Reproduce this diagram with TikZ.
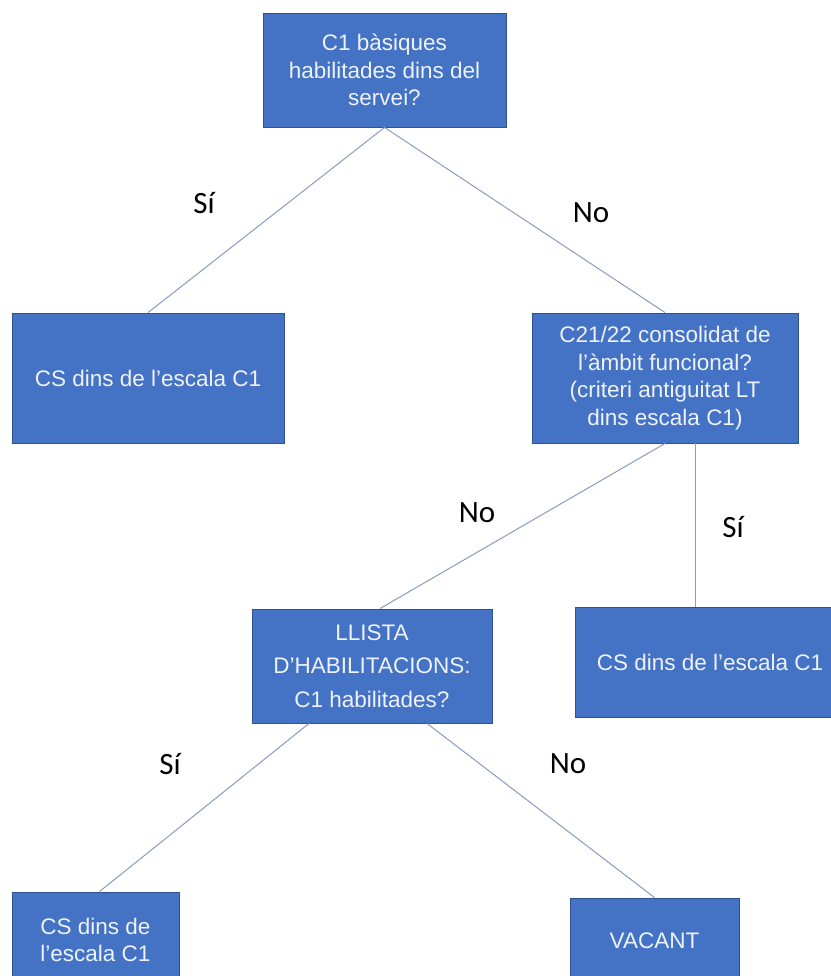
\documentclass[tikz,border=0pt]{standalone}
\usepackage{fontspec}
\setmainfont{Liberation Sans}
\newfontfamily\answerfont{Carlito}
\definecolor{flowBlue}{HTML}{4472C4}
\definecolor{flowBorder}{HTML}{2F528F}
\definecolor{flowText}{HTML}{EEF2FA}
\definecolor{flowLine}{HTML}{8A9BBF}

\begin{document}
\begin{tikzpicture}[
    x=1pt, y=-1pt,
    box/.style={
        draw=flowBorder, line width=0.9pt, fill=flowBlue,
        text=flowText, align=center, inner sep=0pt,
        font=\fontsize{22.5}{27.5}\selectfont
    },
    link/.style={draw=flowLine, line width=1pt},
    answer/.style={font=\answerfont\fontsize{31}{31}\selectfont, text=black},
]
\useasboundingbox (0,0) rectangle (830,976);

% Questions
\node[box, minimum width=243pt, minimum height=114pt] (q1) at (384.5,70) {C1 bàsiques\\habilitades dins del\\servei?};
\node[box, minimum width=266pt, minimum height=130pt] (q2) at (665,378) {C21/22 consolidat de\\l’àmbit funcional?\\(criteri antiguitat LT\\dins escala C1)};
\node[box, minimum width=240pt, minimum height=114pt,
      font=\fontsize{22.5}{33.5}\selectfont] (q3) at (372,666) {LLISTA\\D’HABILITACIONS:\\C1 habilitades?};

% Results
\node[box, minimum width=272pt, minimum height=130pt] (cs1) at (148,378) {CS dins de l’escala C1};
\node[box, minimum width=270pt, minimum height=110pt] (cs2) at (710,662) {CS dins de l’escala C1};
\node[box, minimum width=167pt, minimum height=96pt] (cs3) at (95.5,940) {CS dins de\\l’escala C1};
\node[box, minimum width=169pt, minimum height=86pt] (vacant) at (654.5,941) {VACANT};

% Connectors
\draw[link] (q1.south) -- (cs1.north);
\draw[link] (q1.south) -- (q2.north);
\draw[link] (q2.south) -- ([xshift=8pt]q3.north);
\draw[link] ([xshift=30pt]q2.south) -- ([xshift=30pt]q2.south |- cs2.north);
\draw[link] ([xshift=-63pt]q3.south) -- ([xshift=4pt]cs3.north);
\draw[link] ([xshift=55pt]q3.south) -- (vacant.north);

% Answers
\node[answer] (a1) at (204,203) {Sí};
\node[answer] (a2) at (591,213) {No};
\node[answer] (a3) at (477,513) {No};
\node[answer] (a4) at (733,527) {Sí};
\node[answer] (a5) at (170,764) {Sí};
\node[answer] (a6) at (568,764) {No};

\end{tikzpicture}
\end{document}
